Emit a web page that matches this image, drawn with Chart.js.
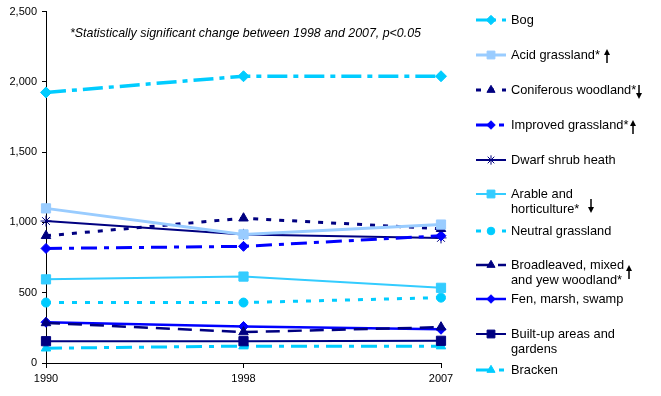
<!DOCTYPE html>
<html>
<head>
<meta charset="utf-8">
<script src="https://cdn.jsdelivr.net/npm/chart.js@4"></script>
<style>
  html, body { margin: 0; padding: 0; background: #fff; }
  #wrap { width: 661px; height: 396px; position: relative; }
</style>
</head>
<body>
<div id="wrap"><canvas id="c" width="661" height="396"></canvas></div>
<script>
// ---- data ----
const years = ['1990', '1998', '2007'];
const bog = [1925, 2040, 2040];
const acidGrassland = [1100, 915, 985];
const coniferous = [905, 1030, 955];
const improvedGrassland = [815, 830, 905];
const dwarfShrub = [1010, 915, 890];
const arable = [595, 615, 535];
const neutralGrassland = [430, 430, 465];
const broadleaved = [285, 220, 255];
const fen = [290, 260, 240];
const builtUp = [155, 155, 158];
const bracken = [105, 120, 120];
const yTicks = [0, 500, 1000, 1500, 2000, 2500];
const note = '*Statistically significant change between 1998 and 2007, p<0.05';
const legendLabels = [
  ['Bog'],
  ['Acid grassland*'],
  ['Coniferous woodland*'],
  ['Improved grassland*'],
  ['Dwarf shrub heath'],
  ['Arable and', 'horticulture*'],
  ['Neutral grassland'],
  ['Broadleaved, mixed', 'and yew woodland*'],
  ['Fen, marsh, swamp'],
  ['Built-up areas and', 'gardens'],
  ['Bracken']
];
// trend arrows: 'up', 'down' or null
const trendArrows = [null, 'up', 'down', 'up', null, 'down', null, 'up', null, null, null];

// ---- styles ----
const CYAN = '#00CCFF', LIGHT = '#99CCFF', NAVY = '#000080', BLUE = '#0000FF', ARABLE = '#33CCFF';
function ds(label, data, color, dash, width, style, radius) {
  return {
    label, data,
    borderColor: color, backgroundColor: color,
    borderDash: dash, borderWidth: width,
    pointStyle: style, pointRadius: radius, pointHoverRadius: radius,
    pointBorderColor: color, pointBackgroundColor: color, pointBorderWidth: 1,
    tension: 0, fill: false
  };
}
const datasets = [
  ds(legendLabels[0].join(' '), bog, CYAN, [20, 6, 5, 6], 3.5, 'rectRot', 5.5),
  ds(legendLabels[1].join(' '), acidGrassland, LIGHT, [], 3, 'rect', 6.5),
  ds(legendLabels[2].join(' '), coniferous, NAVY, [5, 8], 3, 'triangle', 5.5),
  ds(legendLabels[3].join(' '), improvedGrassland, BLUE, [16, 7, 5, 7], 3, 'rectRot', 5),
  ds(legendLabels[4].join(' '), dwarfShrub, NAVY, [], 2, 'star', 5.5),
  ds(legendLabels[5].join(' '), arable, ARABLE, [], 2, 'rect', 6.5),
  ds(legendLabels[6].join(' '), neutralGrassland, CYAN, [5, 8], 3, 'circle', 4.5),
  ds(legendLabels[7].join(' '), broadleaved, NAVY, [14, 8], 2.5, 'triangle', 5.5),
  ds(legendLabels[8].join(' '), fen, BLUE, [], 2.5, 'rectRot', 5),
  ds(legendLabels[9].join(' '), builtUp, NAVY, [], 2, 'rect', 6.5),
  ds(legendLabels[10].join(' '), bracken, CYAN, [16, 7, 5, 7], 3, 'triangle', 5.5)
];

// ---- custom legend + note ----
const legendY = [20, 55, 90, 125, 160, 194, 231, 265, 299, 334, 370];
const arrowX = [0, 607, 639, 633, 0, 591, 0, 629, 0, 0, 0];
const arrowY = [0, 56, 92, 127, 0, 206, 0, 272, 0, 0, 0];

function drawArrow(ctx, x, yc, dir) {
  const h = 14, top = yc - h / 2, bot = yc + h / 2;
  ctx.save();
  ctx.strokeStyle = '#000'; ctx.fillStyle = '#000'; ctx.lineWidth = 1.5;
  ctx.setLineDash([]);
  ctx.beginPath();
  if (dir === 'up') {
    ctx.moveTo(x, bot); ctx.lineTo(x, top + 4); ctx.stroke();
    ctx.beginPath(); ctx.moveTo(x, top); ctx.lineTo(x - 3, top + 6); ctx.lineTo(x + 3, top + 6); ctx.closePath(); ctx.fill();
  } else {
    ctx.moveTo(x, top); ctx.lineTo(x, bot - 4); ctx.stroke();
    ctx.beginPath(); ctx.moveTo(x, bot); ctx.lineTo(x - 3, bot - 6); ctx.lineTo(x + 3, bot - 6); ctx.closePath(); ctx.fill();
  }
  ctx.restore();
}

const customLegend = {
  id: 'customLegend',
  afterDraw(chart) {
    const ctx = chart.ctx;
    ctx.save();
    // note
    ctx.font = 'italic 12.4px "Liberation Sans", Arial, sans-serif';
    ctx.fillStyle = '#000';
    ctx.textBaseline = 'middle';
    ctx.textAlign = 'left';
    ctx.fillText(note, 70, 34);
    // legend
    chart.data.datasets.forEach((d, i) => {
      const y = legendY[i];
      ctx.save();
      ctx.strokeStyle = d.borderColor;
      ctx.lineWidth = Math.min(d.borderWidth, 3);
      ctx.setLineDash(d.borderDash);
      ctx.beginPath(); ctx.moveTo(476, y); ctx.lineTo(506, y); ctx.stroke();
      ctx.setLineDash([]);
      ctx.fillStyle = d.pointBackgroundColor;
      ctx.strokeStyle = d.pointBorderColor;
      ctx.lineWidth = 1;
      Chart.helpers.drawPoint(ctx, { pointStyle: d.pointStyle, radius: d.pointRadius * 0.85, rotation: 0, borderWidth: 1 }, 491, y);
      ctx.restore();
      ctx.font = '12.8px "Liberation Sans", Arial, sans-serif';
      ctx.fillStyle = '#000';
      ctx.textBaseline = 'middle';
      legendLabels[i].forEach((line, k) => ctx.fillText(line, 511, y + k * 15));
      if (trendArrows[i]) drawArrow(ctx, arrowX[i], arrowY[i], trendArrows[i]);
    });
    ctx.restore();
  }
};

new Chart(document.getElementById('c'), {
  type: 'line',
  data: { labels: years, datasets },
  plugins: [customLegend],
  options: {
    responsive: false,
    animation: false,
    events: [],
    layout: { padding: { top: 11, right: 220, left: 0, bottom: 0 } },
    plugins: { legend: { display: false }, tooltip: { enabled: false } },
    scales: {
      x: {
        type: 'category',
        offset: false,
        grid: { display: true, drawOnChartArea: false, drawTicks: true, tickLength: 5, color: '#000' },
        border: { display: true, color: '#000', width: 1 },
        ticks: { color: '#000', font: { size: 11, family: '"Liberation Sans", Arial, sans-serif' }, padding: 4, maxRotation: 0 },
        afterFit(s) { s.height = 33; }
      },
      y: {
        min: 0, max: 2500,
        afterBuildTicks(s) { s.ticks = yTicks.map(v => ({ value: v })); },
        grid: { display: true, drawOnChartArea: false, drawTicks: true, tickLength: 4, color: '#000' },
        border: { display: true, color: '#000', width: 1 },
        ticks: {
          color: '#000', padding: 5,
          font: { size: 11, family: '"Liberation Sans", Arial, sans-serif' },
          callback: v => v.toLocaleString('en-US')
        },
        afterFit(s) { s.width = 46; }
      }
    }
  }
});
</script>
</body>
</html>
